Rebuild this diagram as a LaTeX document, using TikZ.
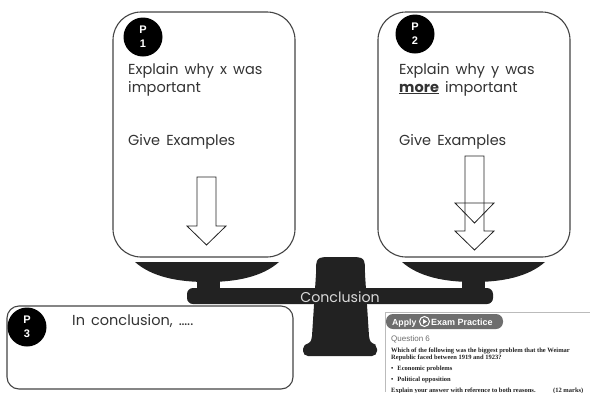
\documentclass[tikz,border=0pt]{standalone}
\usepackage{fontspec}
\setmainfont{Poppins}
\newfontfamily\serifx{Liberation Serif}
\newfontfamily\sansx{Liberation Sans}
\newcommand\widespacing{\spaceskip=0.42em plus 0.1em\relax}
\definecolor{ink}{HTML}{222222}
\definecolor{txt}{HTML}{333333}
\definecolor{boxc}{HTML}{444444}
\definecolor{tabc}{HTML}{6E6E6E}
\definecolor{framec}{HTML}{BBBBBB}
\begin{document}
\begin{tikzpicture}[x=1pt,y=-1pt,
  bigbox/.style={draw=boxc, line width=1.1pt, rounded corners=28pt},
  smallbox/.style={draw=boxc, line width=1.1pt, rounded corners=12pt},
  badge/.style={circle, fill=black, minimum size=39pt, inner sep=0pt, text=white,
    font=\sansx\bfseries\fontsize{11}{14}\selectfont, align=center},
  bodytext/.style={anchor=base west, text=txt, inner sep=0pt,
    font=\fontsize{14.5}{17}\selectfont\widespacing},
  arrowline/.style={draw=ink, line width=0.8pt, line join=miter},
  scalepart/.style={fill=ink},
  examtext/.style={anchor=base west, inner sep=0pt, text=ink,
    font=\serifx\bfseries\fontsize{6.5}{7.5}\selectfont}
]
\useasboundingbox (0,0) rectangle (590,392);
\fill[white] (0,0) rectangle (590,392);

% P1 box
\draw[bigbox] (113,12) rectangle (295,257);
\node[badge] (b1) at (143,37) {P\\1};
\node[bodytext] (t1a) at (128,74) {Explain why x was};
\node[bodytext] (t1b) at (128,92) {important};
\node[bodytext] (g1) at (128,145) {Give Examples};
\draw[arrowline] (197,177) -- (216,177) -- (216,226) -- (226,226) -- (206.5,245)
  -- (187,226) -- (197,226) -- cycle;

% P2 box
\draw[bigbox] (378,12) rectangle (570,257);
\node[badge] (b2) at (415,34) {P\\2};
\node[bodytext] (t2a) at (399,74) {Explain why y was};
\node[bodytext] (t2b) at (399,92) {{\bfseries\underline{more}} important};
\node[bodytext] (g2) at (399,145) {Give Examples};
\draw[arrowline] (465,156) -- (484,156) -- (484,231) -- (494,231) -- (474.5,250)
  -- (455,231) -- (465,231) -- cycle;
\draw[arrowline] (455,203) -- (494,203) -- (474.5,223) -- cycle;

% scale: pans
\fill[scalepart] (135,262) -- (279,262) .. controls (262,277) and (236,282) .. (207,282)
  .. controls (178,282) and (152,277) .. (135,262) -- cycle;
\fill[scalepart] (402,262) -- (545,262) .. controls (528,277) and (502,282) .. (473.5,282)
  .. controls (445,282) and (419,277) .. (402,262) -- cycle;
\fill[scalepart] (197,279) rectangle (220,290);
\fill[scalepart] (462,279) rectangle (485,290);
% fulcrum
\fill[scalepart] (316,274) .. controls (316,257) .. (333,257) -- (348,257)
  .. controls (365,257) .. (365,274) -- (369,336) .. controls (370,342) .. (376,345)
  -- (305,345) .. controls (311,342) .. (312,336) -- cycle;
\fill[scalepart, rounded corners=5pt] (303,344) rectangle (377,356);
% beam
\fill[scalepart, rounded corners=6pt] (187,288) rectangle (493,304);
\node[text=white!85!black, inner sep=0pt, font=\fontsize{14.2}{15}\selectfont] (concl) at (340,297) {Conclusion};

% P3 box
\draw[smallbox] (7,306) rectangle (293,389);
\node[badge] (b3) at (27,327) {P\\3};
\node[bodytext] (t3) at (72,325) {In conclusion, …..};

% exam practice clipping
\fill[white] (385,311) rectangle (590,392);
\draw[framec, line width=0.8pt] (385,392) -- (385,312) -- (590,312);
\fill[tabc, rounded corners=7pt] (386,314) rectangle (503,329);
\node[anchor=base west, inner sep=0pt, text=white, font=\sansx\bfseries\fontsize{8.7}{10}\selectfont] (apply) at (392,325) {Apply};
\node[circle, draw=white, line width=1pt, minimum size=10pt, inner sep=0pt] (icon) at (424.5,321.5) {};
\fill[white] ([xshift=-1.5pt,yshift=2.5pt]icon.center) -- ([xshift=-1.5pt,yshift=-2.5pt]icon.center) -- ([xshift=2.5pt]icon.center) -- cycle;
\node[anchor=base west, inner sep=0pt, text=white, font=\sansx\bfseries\fontsize{9}{10}\selectfont] (exam) at (431,325) {Exam Practice};
\node[anchor=base west, inner sep=0pt, text=tabc, font=\sansx\fontsize{8}{10}\selectfont] (q6) at (391,341) {Question 6};
\node[examtext] (q1) at (391,352) {Which of the following was the biggest problem that the Weimar};
\node[examtext] (q2) at (391,359.5) {Republic faced between 1919 and 1923?};
\node[examtext] (q3) at (391,370.5) {\textbullet\hspace{4pt}Economic problems};
\node[examtext] (q4) at (391,381.5) {\textbullet\hspace{4pt}Political opposition};
\node[examtext] (q5) at (391,392) {Explain your answer with reference to both reasons.};
\node[examtext] (q6m) at (553,392) {(12 marks)};
\end{tikzpicture}
\end{document}
